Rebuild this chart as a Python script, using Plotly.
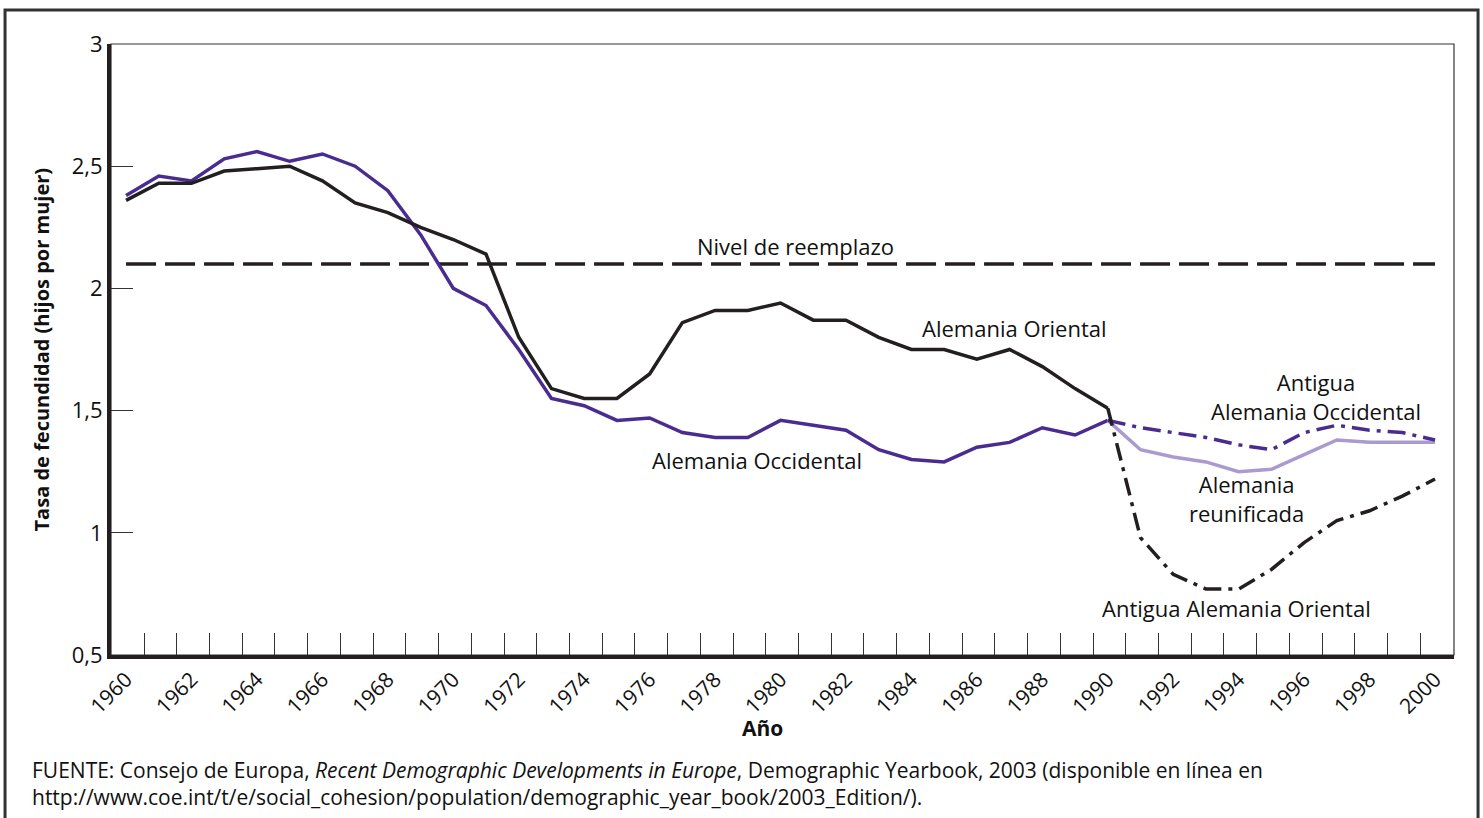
import plotly.graph_objects as go

# ---------------- data ----------------
years_pre = list(range(1960, 1991))
east = [2.36, 2.43, 2.43, 2.48, 2.49, 2.50, 2.44, 2.35, 2.31, 2.25, 2.20, 2.14,
        1.80, 1.59, 1.55, 1.55, 1.65, 1.86, 1.91, 1.91, 1.94, 1.87, 1.87, 1.80,
        1.75, 1.75, 1.71, 1.75, 1.68, 1.59, 1.51]
west = [2.38, 2.46, 2.44, 2.53, 2.56, 2.52, 2.55, 2.50, 2.40, 2.22, 2.00, 1.93,
        1.75, 1.55, 1.52, 1.46, 1.47, 1.41, 1.39, 1.39, 1.46, 1.44, 1.42, 1.34,
        1.30, 1.29, 1.35, 1.37, 1.43, 1.40, 1.46]
years_post = list(range(1990, 2001))
former_east = [1.51, 0.98, 0.83, 0.77, 0.77, 0.85, 0.96, 1.05, 1.09, 1.15, 1.22]
former_west = [1.46, 1.43, 1.41, 1.39, 1.36, 1.34, 1.41, 1.44, 1.42, 1.41, 1.38]
reunified = [1.46, 1.34, 1.31, 1.29, 1.25, 1.26, 1.32, 1.38, 1.37, 1.37, 1.37]
replacement_years = [1960, 2000]
replacement_level = [2.1, 2.1]

x_tick_vals = list(range(1960, 2001, 2))
x_tick_text = [str(v) for v in x_tick_vals]
y_tick_vals = [0.5, 1, 1.5, 2, 2.5, 3]

source_text = ("FUENTE: Consejo de Europa, <i>Recent Demographic Developments in Europe</i>, "
               "Demographic Yearbook, 2003 (disponible en línea en<br>"
               "http://www.coe.int/t/e/social_cohesion/population/demographic_year_book/2003_Edition/).")

# ---------------- styles ----------------
BLACK = "#231f20"
PURPLE = "#4a2c91"
LIGHT = "#a99bcf"
FONT = "Open Sans"
W = 3.5

fig = go.Figure()
fig.add_trace(go.Scatter(x=replacement_years, y=replacement_level, mode="lines",
                         line=dict(color=BLACK, width=W, dash="30px,9px"), hoverinfo="skip"))
fig.add_trace(go.Scatter(x=years_pre, y=west, mode="lines",
                         line=dict(color=PURPLE, width=W)))
fig.add_trace(go.Scatter(x=years_pre, y=east, mode="lines",
                         line=dict(color=BLACK, width=W)))
fig.add_trace(go.Scatter(x=years_post, y=reunified, mode="lines",
                         line=dict(color=LIGHT, width=W)))
fig.add_trace(go.Scatter(x=years_post, y=former_west, mode="lines",
                         line=dict(color=PURPLE, width=W, dash="18px,7px,4px,7px")))
fig.add_trace(go.Scatter(x=years_post, y=former_east, mode="lines",
                         line=dict(color=BLACK, width=W, dash="18px,7px,4px,7px")))

ann_font = dict(family=FONT, size=22, color="#111")
annotations = [
    dict(x=1980.47, y=2.173, text="Nivel de reemplazo"),
    dict(x=1987.16, y=1.838, text="Alemania Oriental"),
    dict(x=1979.29, y=1.298, text="Alemania Occidental"),
    dict(x=1996.36, y=1.557, text="Antigua<br>Alemania Occidental"),
    dict(x=1994.23, y=1.140, text="Alemania<br>reunificada"),
    dict(x=1993.93, y=0.692, text="Antigua Alemania Oriental"),
]
for a in annotations:
    a.update(xref="x", yref="y", showarrow=False, font=ann_font,
             xanchor="center", yanchor="middle", align="center")

annotations += [
    dict(xref="paper", yref="paper", x=-0.0514, y=0.5, textangle=-90,
         text="<b>Tasa de fecundidad (hijos por mujer)</b>", showarrow=False,
         font=dict(family=FONT, size=20, color="#111"), xanchor="center", yanchor="middle"),
    dict(xref="paper", yref="paper", x=0.485, y=-0.1195, text="<b>Año</b>",
         showarrow=False, font=dict(family=FONT, size=21, color="#111"),
         xanchor="center", yanchor="middle"),
    dict(xref="paper", yref="paper", x=-0.0605, y=-0.2103, xanchor="left", yanchor="middle",
         align="left", showarrow=False, font=dict(family=FONT, size=21, color="#111"),
         text=source_text),
]

fig.update_layout(
    width=1483, height=818,
    margin=dict(l=111, r=29, t=44, b=163),
    paper_bgcolor="white", plot_bgcolor="white",
    showlegend=False,
    separators=",.",
    font=dict(family=FONT, size=22, color="#111"),
    annotations=annotations,
    shapes=[
        dict(type="rect", xref="paper", yref="paper", x0=0, x1=1, y0=0, y1=1,
             line=dict(color="#333", width=1.2), layer="below"),
        dict(type="rect", xref="paper", yref="paper", x0=-0.0789, x1=1.0179,
             y0=-0.30, y1=1.0556, line=dict(color="#333", width=3)),
    ],
)
fig.update_xaxes(
    range=[1959.54, 2000.58], showgrid=False, zeroline=False,
    showline=True, linecolor="#231f20", linewidth=4,
    tickmode="array", tickvals=x_tick_vals, ticktext=x_tick_text, tickangle=-45,
    ticks="inside", ticklen=0, tickfont=dict(family=FONT, size=21, color="#111"),
    minor=dict(tickmode="linear", tick0=1960.55, dtick=1, ticks="inside",
               ticklen=22, tickwidth=1.2, tickcolor="#333", showgrid=False),
)
fig.update_yaxes(
    range=[0.5, 3], showgrid=False, zeroline=False,
    showline=True, linecolor="#231f20", linewidth=4,
    tickmode="array", tickvals=y_tick_vals, ticks="inside", ticklen=22,
    tickwidth=1.2, tickcolor="#333", tickfont=dict(family=FONT, size=22, color="#111"),
)

fig.write_html("out.html", config={"displayModeBar": False},
               post_script="document.body.style.margin='0';")
